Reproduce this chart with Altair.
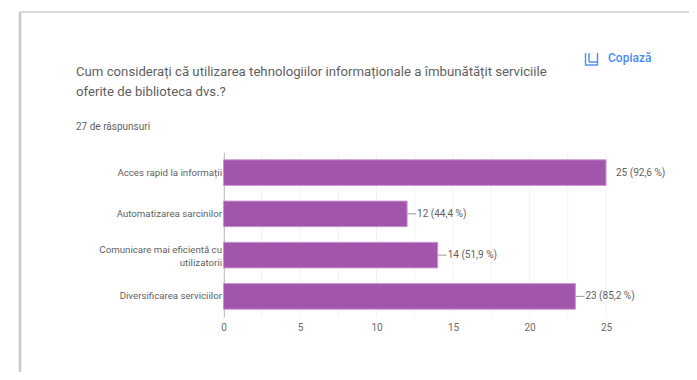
import altair as alt
import pandas as pd

categories = ["Acces rapid la informații", "Automatizarea sarcinilor",
              "Comunicare mai eficientă cu utilizatorii", "Diversificarea serviciilor"]
counts = [25, 12, 14, 23]
percent_labels = ["25 (92,6 %)", "12 (44,4 %)", "14 (51,9 %)", "23 (85,2 %)"]
x_grid = [0, 2.5, 5, 7.5, 10, 12.5, 15, 17.5, 20, 22.5, 25]
x_ticks = [0, 5, 10, 15, 20, 25]
title_lines = ["Cum considerați că utilizarea tehnologiilor informaționale a îmbunătățit serviciile",
               "oferite de biblioteca dvs.?"]
subtitle = "27 de răspunsuri"
copy_label = "Copiază"

FONT = "Roboto"
TEXT = "#5f5f5f"
PURPLE = "#a155ab"
BLUE = "#4a8af4"
OX, OY = 223.5, 152  # page position of the plot origin

df = pd.DataFrame({"cat": categories, "n": counts, "lab": percent_labels})
x_scale = alt.Scale(domain=[0, 25], nice=False)
y_scale = alt.Scale(domain=categories, paddingInner=0.38, paddingOuter=0.19)
one = pd.DataFrame({"a": [0]})


def page_text(txt, px, py, size, color=TEXT, weight=400):
    return alt.Chart(one).mark_text(text=txt, align="left", baseline="alphabetic", font=FONT,
                                    fontSize=size, color=color, fontWeight=weight).encode(
        x=alt.value(px - OX), y=alt.value(py - OY))


def page_rule(x1, y1, x2, y2, color, w):
    return alt.Chart(one).mark_rule(color=color, strokeWidth=w).encode(
        x=alt.value(x1 - OX), x2=alt.value(x2 - OX), y=alt.value(y1 - OY), y2=alt.value(y2 - OY))


x_axis = alt.Axis(values=x_ticks, grid=False, domain=False, ticks=False, labelFont=FONT,
                  labelFontSize=10, labelColor="#6a6a6a", labelPadding=5, labelFlush=False,
                  format="d")

grid = alt.Chart(pd.DataFrame({"g": x_grid})).mark_rule(color="#f2f2f2", strokeWidth=1).encode(
    x=alt.X("g:Q", scale=x_scale, axis=x_axis, title=None))

two_line = "datum.value == 'Comunicare mai eficientă cu utilizatorii'"
label_expr = f"{two_line} ? ['Comunicare mai eficientă cu', 'utilizatorii'] : datum.label"

bars = alt.Chart(df).mark_bar(color=PURPLE, stroke="#cc93d3", strokeWidth=1).encode(
    y=alt.Y("cat:N", scale=y_scale, sort=categories, title=None,
            axis=alt.Axis(labelFont=FONT, labelFontSize=9.7, labelColor=TEXT, labelLimit=0,
                          labelPadding=2, ticks=False, domainColor="#8a8a8a", domainWidth=1,
                          labelExpr=label_expr, labelLineHeight=13,
                          labelOffset={"condition": {"test": two_line, "value": -5}, "value": 0})),
    x=alt.X("n:Q", scale=x_scale, title=None),
)

leaders = alt.Chart(df).transform_filter("datum.n < 25").mark_rule(
    color="#999999", strokeWidth=1, x2Offset=9).encode(
    y=alt.Y("cat:N", scale=y_scale, sort=categories, bandPosition=0.5),
    x=alt.X("n:Q", scale=x_scale),
    x2="n:Q",
)

values = alt.Chart(df).mark_text(align="left", baseline="middle", dx=10, font=FONT, fontSize=10,
                                 color=TEXT).encode(
    y=alt.Y("cat:N", scale=y_scale, sort=categories),
    x=alt.X("n:Q", scale=x_scale),
    text="lab:N",
)

decor = [
    page_rule(20, 12, 20, 380, "#c9c9c9", 2.5),
    page_rule(20, 12, 697, 12, "#cfcfcf", 1.5),
    page_text(title_lines[0], 76, 75.5, 13.2),
    page_text(title_lines[1], 76, 95.5, 13.2),
    page_text(subtitle, 76, 130, 10),
    page_text(copy_label, 608, 62, 12, BLUE, 500),
    page_rule(585.5, 53, 585.5, 65, BLUE, 1.4),
    page_rule(589, 53, 589, 62, BLUE, 1.4),
    page_rule(597.5, 53, 597.5, 65, BLUE, 1.4),
    page_rule(585, 65, 598, 65, BLUE, 1.4),
    page_rule(589, 62, 597.5, 62, BLUE, 1.4),
]

chart = alt.layer(grid, bars, leaders, values, *decor).properties(
    width=382.5, height=165,
    padding={"left": 215.5, "top": 144, "right": 83, "bottom": 55},
    autosize=alt.AutoSizeParams(type="none"),
    background="white",
).configure_view(stroke=None)

chart.save("out.html", embed_options={"renderer": "svg", "actions": False})
